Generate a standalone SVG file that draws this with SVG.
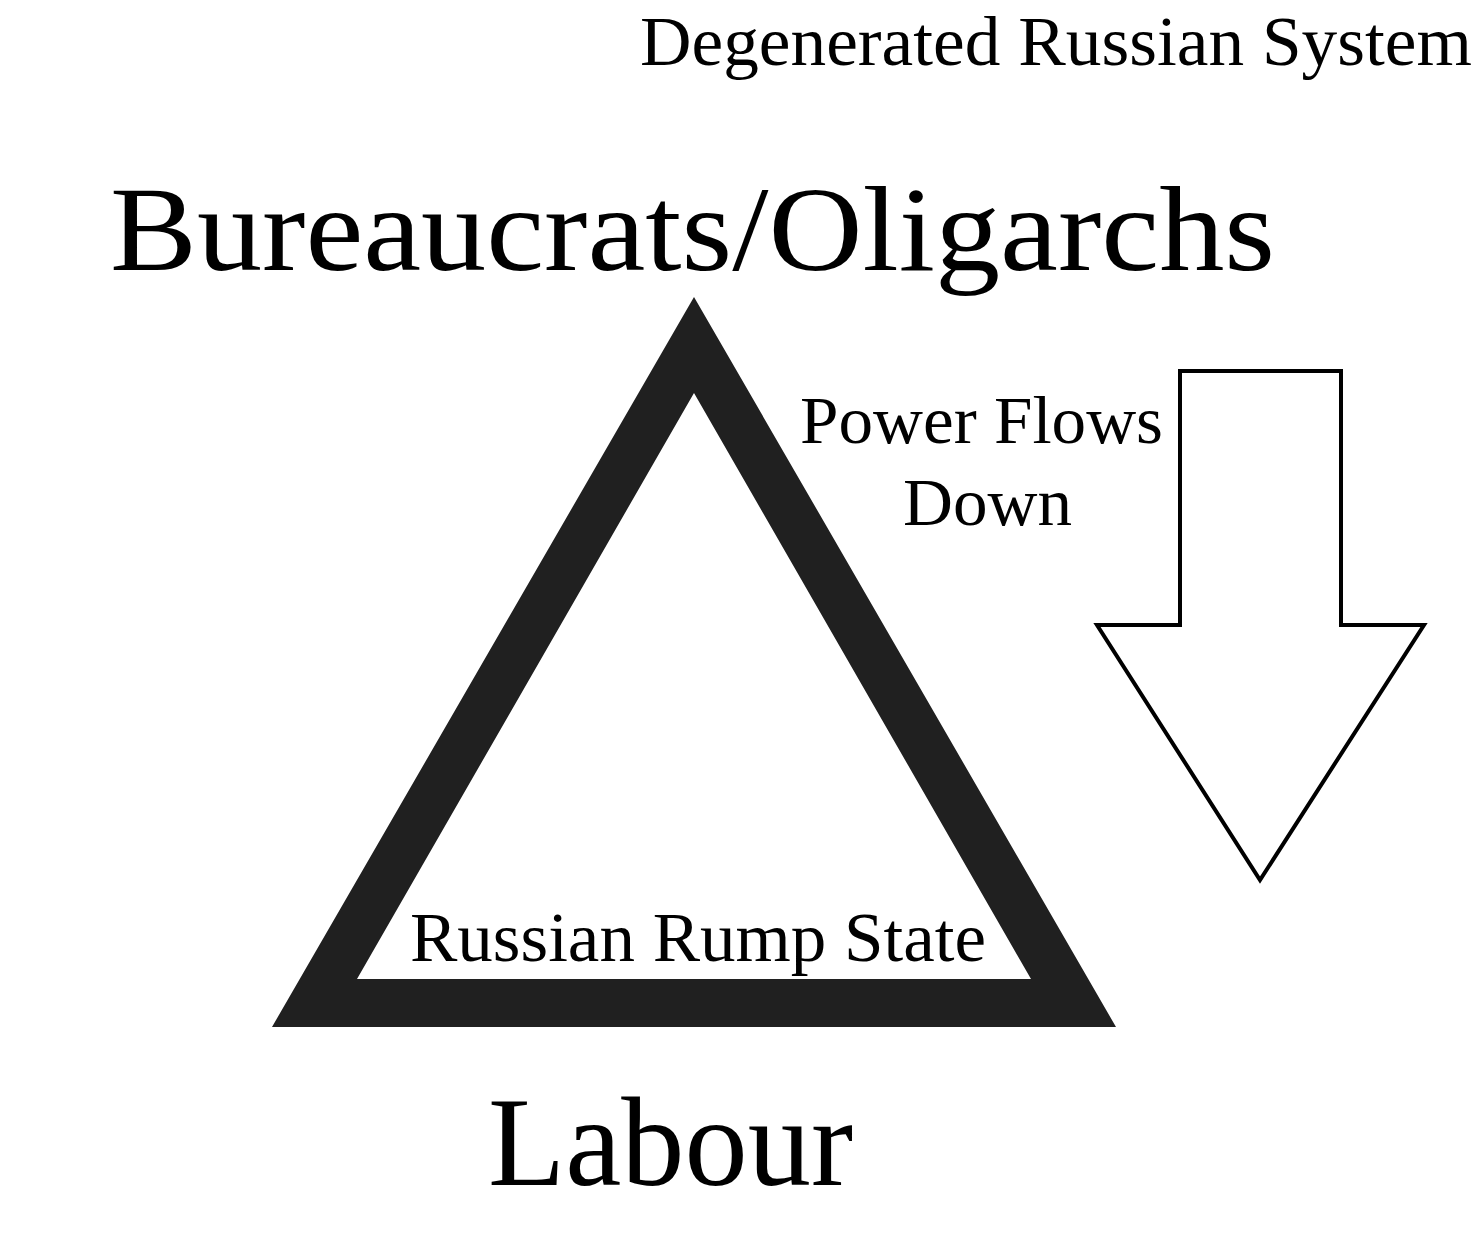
<svg xmlns="http://www.w3.org/2000/svg" width="1478" height="1260" viewBox="0 0 1478 1260">
<style>
text { font-family: "Liberation Serif", "DejaVu Serif", serif; fill: #000; }
.arrow { fill: #fff; stroke: #000; stroke-width: 4; stroke-linejoin: miter; }
</style>
<rect width="1478" height="1260" fill="#fff"/>
<g id="title"><text x="640" y="65" font-size="70" textLength="832" lengthAdjust="spacingAndGlyphs">Degenerated Russian System</text></g>
<g id="top-label"><text x="110" y="270" font-size="120" textLength="1165" lengthAdjust="spacingAndGlyphs">Bureaucrats/Oligarchs</text></g>
<g id="triangle">
<path fill="#202020" fill-rule="evenodd" d="M694,297 L1116,1027 L272,1027 Z M694,393 L357,979 L1031,979 Z"/>
<text x="410" y="961" font-size="70" textLength="576" lengthAdjust="spacingAndGlyphs">Russian Rump State</text>
</g>
<g id="bottom-label"><text x="488" y="1185" font-size="128" textLength="365" lengthAdjust="spacingAndGlyphs">Labour</text></g>
<g id="power-label">
<text x="800" y="443" font-size="68" textLength="363" lengthAdjust="spacingAndGlyphs">Power Flows</text>
<text x="903" y="525" font-size="68" textLength="169" lengthAdjust="spacingAndGlyphs">Down</text>
</g>
<g id="connectors">
<path class="arrow" d="M1180,371 L1341,371 L1341,625 L1424,625 L1260,880 L1097,625 L1180,625 Z"/>
</g>
</svg>
